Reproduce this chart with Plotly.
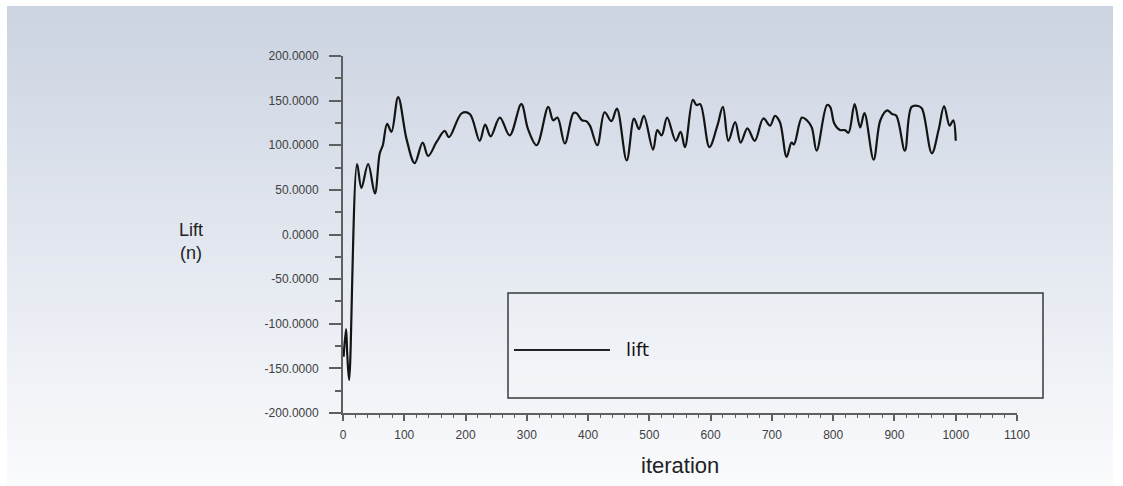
import base64
import struct
import zlib

import plotly.graph_objects as go

# ---- data ----
iteration = [1, 5, 7, 10, 23, 30, 41, 52, 60, 65, 72, 79, 90, 104, 117, 130, 139, 153,
             166, 173, 194, 207, 223, 232, 241, 256, 272, 291, 302, 316, 335, 343, 350,
             362, 376, 381, 390, 397, 403, 415, 427, 438, 447, 463, 475, 483, 491, 506,
             513, 520, 529, 543, 551, 558, 571, 577, 583, 598, 611, 620, 629, 640, 649,
             660, 672, 686, 697, 705, 713, 724, 732, 736, 749, 757, 765, 773, 790, 795,
             802, 811, 819, 825, 835, 844, 851, 866, 877, 888, 896, 903, 917, 928, 939,
             945, 961, 972, 981, 990, 996, 1000]
lift = [-137, -106, -135, -163, 79, 52, 79, 46, 91, 100, 124, 115, 154, 106, 80, 103, 88, 104,
        116, 109, 136, 135, 105, 123, 110, 131, 111, 146, 118, 100, 143, 128, 131,
        102, 136, 136, 128, 127, 122, 100, 137, 127, 141, 83, 130, 118, 133, 95,
        117, 111, 131, 105, 115, 98, 151, 145, 146, 98, 122, 143, 105, 126, 103,
        119, 105, 130, 122, 133, 126, 87, 103, 101, 131, 128, 120, 94, 145, 143,
        124, 117, 117, 114, 146, 120, 136, 84, 128, 139, 135, 133, 94, 143, 144,
        141, 91, 117, 144, 122, 128, 105]
y_ticks = [-200, -150, -100, -50, 0, 50, 100, 150, 200]
x_ticks = [0, 100, 200, 300, 400, 500, 600, 700, 800, 900, 1000, 1100]
series_name = "lift"
y_title = "Lift<br>(n)"
x_title = "iteration"

# ---- geometry helpers (pixels -> paper) ----
W, H = 1123, 486
L, R, T, B = 343, 1017, 56, 413
pw, ph = R - L, B - T


def px(x):
    return (x - L) / pw


def py(y):
    return (B - y) / ph


# ---- vertical gradient background as a small PNG ----
def gradient_png(top, bottom, n=256):
    raw = b""
    for i in range(n):
        t = i / (n - 1)
        c = bytes(int(round(top[k] + (bottom[k] - top[k]) * t)) for k in range(3))
        raw += b"\x00" + c

    def chunk(tag, data):
        return struct.pack(">I", len(data)) + tag + data + struct.pack(">I", zlib.crc32(tag + data) & 0xffffffff)

    png = b"\x89PNG\r\n\x1a\n"
    png += chunk(b"IHDR", struct.pack(">IIBBBBB", 1, n, 8, 2, 0, 0, 0))
    png += chunk(b"IDAT", zlib.compress(raw, 9))
    png += chunk(b"IEND", b"")
    return "data:image/png;base64," + base64.b64encode(png).decode()


bg = gradient_png((204, 212, 226), (250, 251, 253))

fig = go.Figure()
fig.add_trace(go.Scatter(
    x=iteration, y=lift, mode="lines", name=series_name,
    line=dict(color="#141414", width=2.2, shape="spline", smoothing=1.0),
    showlegend=False, hoverinfo="x+y",
))

tick_font = dict(family="Arial, Liberation Sans, sans-serif", size=12, color="#404040")
axis_common = dict(
    showgrid=False, zeroline=False, showline=True, linecolor="#5f5f5f", linewidth=2,
    ticks="outside", tickcolor="#5f5f5f", tickwidth=1.5, tickfont=tick_font,
)

fig.update_xaxes(
    range=[0, 1100], tickmode="array", tickvals=x_ticks, ticktext=[str(v) for v in x_ticks],
    ticklen=6, ticklabelstandoff=4, **axis_common,
    minor=dict(dtick=20, tick0=0, ticks="outside", ticklen=3, tickcolor="#5f5f5f", tickwidth=1),
)
fig.update_yaxes(
    range=[-200, 200], tickmode="array", tickvals=y_ticks,
    ticktext=[f"{v:.4f}" for v in y_ticks],
    ticklen=12, ticklabelstandoff=8, **axis_common,
    minor=dict(dtick=25, tick0=0, ticks="outside", ticklen=6, tickcolor="#5f5f5f", tickwidth=1.5),
)

# legend box drawn like the reference (long line sample)
fig.add_shape(type="rect", xref="paper", yref="paper",
              x0=px(508), x1=px(1043), y0=py(398), y1=py(293),
              line=dict(color="#3a3a3a", width=1.5), fillcolor="rgba(255,255,255,0.15)")
fig.add_shape(type="line", xref="paper", yref="paper",
              x0=px(514), x1=px(610), y0=py(350), y1=py(350),
              line=dict(color="#222222", width=2))
fig.add_annotation(text=series_name, xref="paper", yref="paper", x=px(624), y=py(349),
                   xanchor="left", yanchor="middle", showarrow=False,
                   font=dict(family="DejaVu Sans, sans-serif", size=18, color="#111111"))

# axis titles
fig.add_annotation(text=y_title, xref="paper", yref="paper", x=px(191), y=py(242),
                   xanchor="center", yanchor="middle", showarrow=False, align="center",
                   font=dict(family="Arial, Liberation Sans, sans-serif", size=18, color="#222222"))
fig.add_annotation(text=x_title, xref="paper", yref="paper", x=px(680), y=py(465),
                   xanchor="center", yanchor="middle", showarrow=False,
                   font=dict(family="Arial, Liberation Sans, sans-serif", size=22, color="#222222"))

fig.add_layout_image(dict(
    source=bg, xref="paper", yref="paper", x=px(7), y=py(6),
    sizex=px(1113) - px(7), sizey=py(6) - py(486), sizing="stretch",
    xanchor="left", yanchor="top", layer="below",
))

fig.update_layout(
    width=W, height=H, autosize=False,
    margin=dict(l=L, r=W - R, t=T, b=H - B),
    paper_bgcolor="white", plot_bgcolor="rgba(0,0,0,0)",
    showlegend=False,
)

fig.write_html("out.html", config={"displayModeBar": False},
               post_script="document.body.style.margin='0px';document.body.style.overflow='hidden';")
